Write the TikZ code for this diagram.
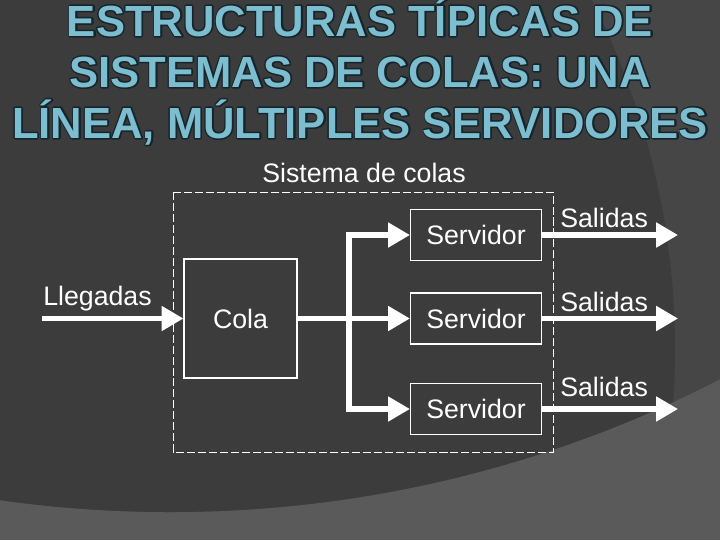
\documentclass[tikz,border=0pt]{standalone}
\usepackage{fontspec}
\setmainfont{Liberation Sans}
\usetikzlibrary{arrows.meta}

\definecolor{bglight}{HTML}{5A5A5A}
\definecolor{bgmid}{HTML}{464646}
\definecolor{bgdark}{HTML}{3C3C3C}
\definecolor{titlefill}{HTML}{7CBDD0}

% dark outline drawn under the filled letters
\newcommand{\outlined}[1]{%
  \rlap{\special{pdf:literal direct 1 Tr 2.2 w 1 J 1 j 0.086 0.145 0.169 RG}#1\special{pdf:literal direct 0 Tr}}#1}

\tikzset{
  lbl/.style={text=white, font=\fontsize{19}{22}\selectfont, inner sep=0pt},
  box/.style={lbl, draw=white, line width=0.8pt},
  pipe/.style={white, line width=3.6pt},
  arr/.style={pipe, -{Triangle[length=15.5pt,width=17pt]}},
  ttl/.style={text=titlefill, font=\fontsize{31}{36}\selectfont\bfseries, inner sep=0pt, anchor=base},
}

\begin{document}
\begin{tikzpicture}[x=0.025cm, y=-0.025cm]
        \useasboundingbox (0,0) rectangle (720,540);

        % Background
        \fill[bglight] (0,0) rectangle (720,540);
        \begin{scope}
            \clip (0,0) rectangle (720,540);
            \fill[bgmid] (170,-691) circle[radius=1203];
            \clip (170,-691) circle[radius=1203];
            \fill[bgdark] (-100,350) circle[radius=775];
        \end{scope}

        % Title
        \node[ttl] (t1) at (360,36) {\outlined{ESTRUCTURAS TÍPICAS DE}};
        \node[ttl] (t2) at (360,87) {\outlined{SISTEMAS DE COLAS: UNA}};
        \node[ttl] (t3) at (360,138) {\outlined{LÍNEA, MÚLTIPLES SERVIDORES}};

        % Queueing system frame
        \node[lbl, anchor=base] (sys) at (364,182) {Sistema de colas};
        \draw[white, line width=0.7pt, dash pattern=on 5.7pt off 2.1pt] (173,192) rectangle (553,452);

        % Queue and servers
        \node[box, minimum width=2.825cm, minimum height=2.975cm] (cola) at (240.5,318.5) {Cola};
        \node[box, minimum width=3.275cm, minimum height=1.275cm] (srv1) at (476,235) {Servidor};
        \node[box, minimum width=3.275cm, minimum height=1.275cm] (srv2) at (476,318.5) {Servidor};
        \node[box, minimum width=3.275cm, minimum height=1.275cm] (srv3) at (476,409) {Servidor};

        % Arrivals
        \coordinate (inp) at (42,318.5);
        \node[lbl, anchor=base west] (lleg) at (43,305) {Llegadas};
        \draw[arr] (inp) -- (cola.west);

        % Split to the servers
        \coordinate (sp1) at (349,235);
        \coordinate (sp3) at (349,409);
        \draw[pipe, line cap=rect] (sp1) -- (sp3);
        \draw[pipe] (cola.east) -- (cola.east -| sp1);
        \draw[arr] (sp1) -- (srv1.west);
        \draw[arr] (cola.east -| sp1) -- (srv2.west);
        \draw[arr] (sp3) -- (srv3.west);

        % Departures
        \coordinate (out1) at (678,235);
        \coordinate (out2) at (678,318.5);
        \coordinate (out3) at (678,409);
        \draw[arr] (srv1.east) -- (out1);
        \draw[arr] (srv2.east) -- (out2);
        \draw[arr] (srv3.east) -- (out3);
        \node[lbl, anchor=base west] (sal1) at (560,227) {Salidas};
        \node[lbl, anchor=base west] (sal2) at (560,311) {Salidas};
        \node[lbl, anchor=base west] (sal3) at (560,396) {Salidas};
    \end{tikzpicture}
\end{document}
